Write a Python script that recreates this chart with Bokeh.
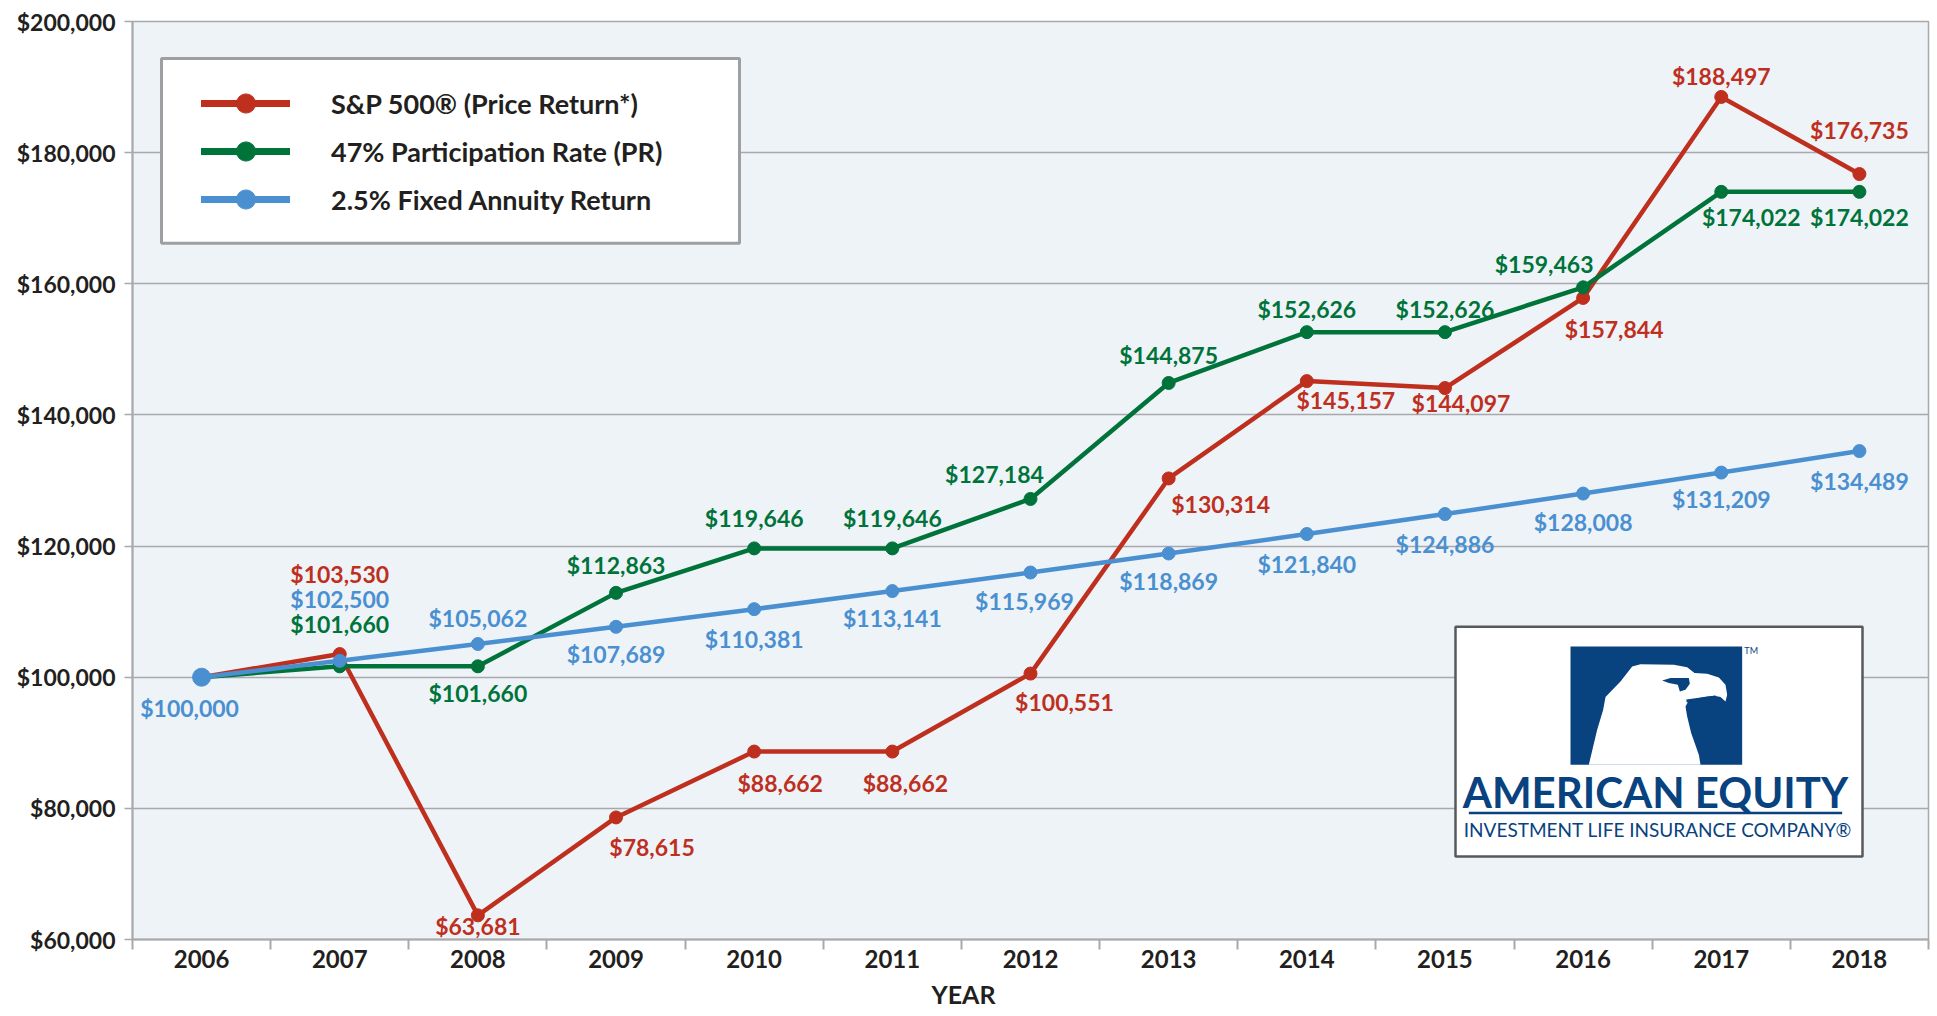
from bokeh.plotting import figure
from bokeh.models import (FixedTicker, NumeralTickFormatter, Legend, LegendItem, Title,
                          Range1d, ColumnDataSource)
from bokeh.core.properties import value
from bokeh.embed import file_html
from bokeh.resources import INLINE

# ---------------- data ----------------
years = [2006, 2007, 2008, 2009, 2010, 2011, 2012, 2013, 2014, 2015, 2016, 2017, 2018]
sp500 = [100000, 103530, 63681, 78615, 88662, 88662, 100551, 130314, 145157, 144097, 157844, 188497, 176735]
participation = [100000, 101660, 101660, 112863, 119646, 119646, 127184, 144875, 152626, 152626, 159463, 174022, 174022]
fixed_annuity = [100000, 102500, 105062, 107689, 110381, 113141, 115969, 118869, 121840, 124886, 128008, 131209, 134489]
y_ticks = [60000, 80000, 100000, 120000, 140000, 160000, 180000, 200000]
series_names = ["S&P 500\u00ae (Price Return*)", "47% Participation Rate (PR)", "2.5% Fixed Annuity Return"]
x_axis_title = "YEAR"

# ---------------- styles ----------------
RED = "#BE2F1E"
GREEN = "#00733A"
BLUE = "#4A90D0"
GRID = "#A7A9AC"
TXT = "#231F20"
LOGO_BLUE = "#08427F"
FONT = "Lato"

# label offsets (screen px, +y = down); None = no label
sp_off = [None, (0, -80), (0, 11), (36, 30), (26, 31), (13, 31), (34, 28), (52, 26),
          (39, 19), (16, 15), (31, 31), (0, -21), (0, -44)]
pr_off = [None, (0, -42), (0, 27), (0, -28), (0, -30), (0, -30), (-36, -25), (0, -28),
          (0, -23), (0, -23), (-39, -23), (30, 25), (0, 25)]
fx_off = [(-12, 31), (0, -62), (0, -26), (0, 27), (0, 30), (0, 27), (-6, 28), (0, 28),
          (0, 30), (0, 30), (0, 28), (0, 26), (0, 30)]

W, H = 1933, 1014
BL, BR, BT, BB = 132, 5, 21, 74
X0, X1 = years[0] - 0.5, years[-1] + 0.5
Y0, Y1 = y_ticks[0], y_ticks[-1]

p = figure(width=W, height=H, output_backend="svg", toolbar_location=None,
           x_range=Range1d(X0, X1), y_range=Range1d(Y0, Y1),
           min_border_left=BL, min_border_right=BR, min_border_top=BT, min_border_bottom=BB,
           background_fill_color="#EEF3F8", border_fill_color="white",
           outline_line_color=GRID, outline_line_width=1.5)

# frame in page pixels (for decoration placement)
FL, FR, FT, FB = BL, W - BR, BT, H - BB
def px2x(px):
    return X0 + (px - FL) / (FR - FL) * (X1 - X0)
def py2y(py):
    return Y1 - (py - FT) / (FB - FT) * (Y1 - Y0)

# ---------------- axes ----------------
xa = p.xaxis[0]
xa.ticker = FixedTicker(ticks=years, minor_ticks=[y - 0.5 for y in years] + [years[-1] + 0.5])
xa.major_tick_out = 0
xa.major_tick_in = 0
xa.minor_tick_out = 10
xa.minor_tick_in = 0
xa.minor_tick_line_color = GRID
xa.minor_tick_line_width = 2
xa.axis_line_color = GRID
xa.axis_line_width = 2
xa.major_label_text_font = FONT
xa.major_label_text_font_style = "bold"
xa.major_label_text_font_size = "24px"
xa.major_label_text_color = TXT
xa.major_label_standoff = 0

ya = p.yaxis[0]
ya.ticker = FixedTicker(ticks=y_ticks)
ya.formatter = NumeralTickFormatter(format="$0,0")
ya.major_tick_out = 8
ya.major_tick_in = 0
ya.major_tick_line_color = GRID
ya.major_tick_line_width = 1.5
ya.minor_tick_line_color = None
ya.axis_line_color = GRID
ya.axis_line_width = 2
ya.major_label_text_font = FONT
ya.major_label_text_font_style = "bold"
ya.major_label_text_font_size = "23px"
ya.major_label_text_color = TXT
ya.major_label_standoff = 9

p.xgrid.grid_line_color = None
p.ygrid.ticker = FixedTicker(ticks=y_ticks)
p.ygrid.grid_line_color = GRID
p.ygrid.grid_line_width = 1.5

# ---------------- legend box (drawn behind the legend) ----------------
p.quad(left=[px2x(161)], right=[px2x(739)], top=[py2y(58)], bottom=[py2y(243)],
       fill_color="white", line_color="#9D9FA2", line_width=3)

# ---------------- series ----------------
for vals, color in [(sp500, RED), (participation, GREEN), (fixed_annuity, BLUE)]:
    p.line(years, vals, line_color=color, line_width=4.5)
    p.scatter(years, vals, size=13, fill_color=color, line_color=color)
p.scatter(years[:1], fixed_annuity[:1], size=18, fill_color=BLUE, line_color=BLUE)

# ---------------- data labels ----------------
for vals, offs, color in [(sp500, sp_off, RED), (participation, pr_off, GREEN), (fixed_annuity, fx_off, BLUE)]:
    xs, ys, ts, dxs, dys = [], [], [], [], []
    for yr, v, o in zip(years, vals, offs):
        if o is None:
            continue
        xs.append(yr); ys.append(v); ts.append("${:,}".format(v))
        dxs.append(o[0]); dys.append(o[1])
    src = ColumnDataSource(dict(x=xs, y=ys, text=ts, dx=dxs, dy=dys))
    p.text(x="x", y="y", text="text", x_offset="dx", y_offset="dy", source=src,
           text_color=color, text_font=value(FONT), text_font_style="bold",
           text_font_size="23px", text_align="center", text_baseline="middle")

# ---------------- legend ----------------
nan = float("nan")
items = []
for name, color in zip(series_names, [RED, GREEN, BLUE]):
    r1 = p.line([nan], [nan], line_color=color, line_width=7, line_cap="round")
    r2 = p.scatter([nan], [nan], size=15, fill_color=color, line_color=color)
    items.append(LegendItem(label=name, renderers=[r1, r2]))
legend = Legend(items=items, location=(201 - FL, FB - 224),
                border_line_color=None, background_fill_alpha=0.0,
                padding=0, spacing=0, margin=0,
                glyph_width=89, glyph_height=48, label_height=48,
                label_standoff=41,
                label_text_font=FONT, label_text_font_style="bold",
                label_text_font_size="27px", label_text_color=TXT)
p.add_layout(legend)

# ---------------- logo (decoration) ----------------
p.quad(left=[px2x(1455)], right=[px2x(1862)], top=[py2y(627)], bottom=[py2y(857)],
       fill_color="white", line_color="#58595B", line_width=2.5)
def zx(v):
    return px2x(1440 + v / 3.0)
def zy(v):
    return py2y(610 + v / 3.0)
p.quad(left=[zx(390)], right=[zx(905)], top=[zy(110)], bottom=[zy(465)],
       fill_color=LOGO_BLUE, line_color=None)
eagle = [(445, 465), (470, 360), (488, 300), (495, 262), (540, 215), (575, 170), (600, 163),
         (700, 165), (740, 172), (762, 190), (800, 192), (835, 203), (855, 225), (860, 255),
         (855, 275), (840, 262), (822, 258), (790, 262), (745, 272), (735, 290), (740, 320),
         (752, 370), (775, 435), (780, 465)]
p.patch([zx(a) for a, b in eagle], [zy(b) for a, b in eagle], fill_color="white", line_color=None)
eye = [(665, 212), (690, 205), (745, 205), (748, 222), (735, 240), (718, 245), (712, 225), (685, 220)]
p.patch([zx(a) for a, b in eye], [zy(b) for a, b in eye], fill_color=LOGO_BLUE, line_color=None)
p.line([zx(738), zx(826)], [zy(274), zy(262)], line_color=LOGO_BLUE, line_width=3)
p.text(x=[zx(932)], y=[zy(122)], text=["TM"], text_color=LOGO_BLUE, text_font=value(FONT),
       text_font_size="9px", text_align="center", text_baseline="middle")
p.text(x=[zx(645)], y=[zy(548)], text=["AMERICAN EQUITY"], text_color=LOGO_BLUE,
       text_font=value(FONT), text_font_style="bold", text_font_size="42px",
       text_align="center", text_baseline="middle")
p.line([zx(85), zx(1205)], [zy(610), zy(610)], line_color=LOGO_BLUE, line_width=2.5)
p.text(x=[zx(652)], y=[zy(660)], text=["INVESTMENT LIFE INSURANCE COMPANY\u00ae"], text_color=LOGO_BLUE,
       text_font=value(FONT), text_font_size="19px",
       text_align="center", text_baseline="middle")

# ---------------- axis title ----------------
p.add_layout(Title(text=x_axis_title, align="left", offset=962 - 31 - FL, standoff=12,
                   text_font=FONT, text_font_style="bold", text_font_size="25px",
                   text_color=TXT), "below")

open("out.html", "w").write(file_html(p, INLINE))
